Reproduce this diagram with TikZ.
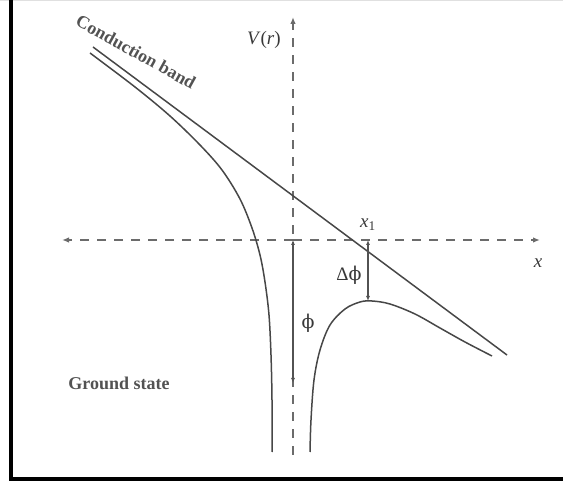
\documentclass[tikz,border=0pt]{standalone}
\usepackage{fontspec}
\setmainfont{Liberation Serif}
\newfontfamily\phifont{DejaVu Serif}
\usetikzlibrary{arrows.meta,positioning}

\begin{document}
\begin{tikzpicture}[x=1pt, y=-1pt,
            curve/.style={draw=black!72, line width=1.5pt},
            axis/.style={draw=black!58, line width=1.4pt, dash pattern=on 9pt off 8pt},
            axtip/.style={-{Latex[length=7pt,width=5.5pt]}},
            gap/.style={draw=black!68, line width=1.1pt, {Latex[length=5pt,width=4pt]}-{Latex[length=5pt,width=4pt]}},
            lbl/.style={font=\fontsize{19}{22}\selectfont, text=black!78, inner sep=1pt},
            boldlbl/.style={font=\fontsize{18}{21}\selectfont\bfseries, text=black!68, inner sep=0pt},
          ]
          \useasboundingbox (0,0) rectangle (563,486);
          % --- frame ---
          \draw[black!12, line width=1.5pt] (0,0.75) -- (563,0.75);
          \draw[black, line width=4pt] (10.5,0) -- (10.5,479) -- (563,479);

          % --- axes ---
          \coordinate (O) at (293,240);
          \coordinate (xleft) at (62,240);
          \coordinate (xright) at (540,240);
          \coordinate (vtop) at (293,17);
          \coordinate (vbot) at (293,455);
          \draw[axis, axtip] (O) -- (xright);
          \draw[axis, axtip] (O) -- (xleft);
          \draw[axis, axtip] (vbot) -- (vtop);
          \node[lbl] (Vlab) at (264,40) {\textit{V}(\textit{r})};
          \node[lbl] (xlab) at (538,263) {\textit{x}};

          % --- conduction band (straight) and potential branches ---
          \coordinate (cbA) at (93,47);
          \coordinate (cbB) at (507,355);
          \draw[curve] (cbA) -- (cbB);
          \draw[curve] plot[smooth, tension=0.55] coordinates {(90,53) (135,87) (170,116) (200,145) (222,170)
            (240,199) (252,228) (260,255) (265,282) (269,315) (271,355) (272,400) (272,452)};
          \draw[curve] plot[smooth, tension=0.55] coordinates {(310,452) (311,420) (314,380) (320,350)
            (330,325) (345,309) (360,302) (372,301) (390,304) (415,314) (440,328) (465,342) (492,356)};
          \node[boldlbl, rotate=-29] (cband) at (136,52) {Conduction band};

          % --- barrier height and lowering ---
          \coordinate (peak) at (368,301);
          \coordinate (x1pt) at (368,240);
          \coordinate (gsl) at (293,383);
          \draw[gap] (x1pt) -- (peak);
          \draw[gap] (O) -- (gsl);
          \node[lbl] (x1lab) at (368,225) {\textit{x}\textsubscript{1}};
          \node[lbl] (dphi) at (349,275) {Δ{\phifont ϕ}};
          \node[lbl] (phi) at (308,323) {{\phifont ϕ}};
          \node[boldlbl] (gstate) at (119,383) {Ground state};
        \end{tikzpicture}
\end{document}
